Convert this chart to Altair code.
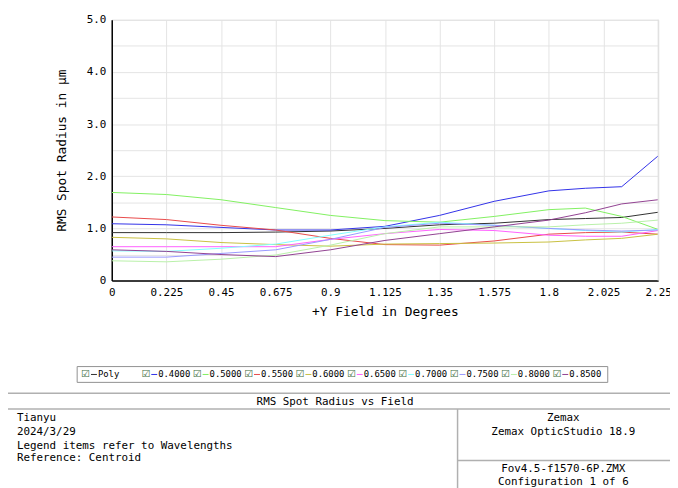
import altair as alt
import pandas as pd

field = [0, 0.225, 0.45, 0.675, 0.9, 1.125, 1.35, 1.575, 1.8, 1.95, 2.1, 2.25]

series_names = ["Poly", "0.4000", "0.5000", "0.5500", "0.6000", "0.6500",
                "0.7000", "0.7500", "0.8000", "0.8500"]
series_colors = ["#303030", "#3030e8", "#80f060", "#e84848", "#c8c040",
                 "#ff60ff", "#80ffff", "#9898ff", "#b8f0a8", "#904090"]

poly = [0.92, 0.92, 0.92, 0.93, 0.95, 1.00, 1.07, 1.10, 1.17, 1.19, 1.21, 1.31]
w0400 = [1.09, 1.07, 1.02, 0.97, 0.97, 1.04, 1.25, 1.52, 1.72, 1.77, 1.80, 2.39]
w0500 = [1.69, 1.65, 1.55, 1.40, 1.25, 1.15, 1.12, 1.23, 1.36, 1.39, 1.23, 0.98]
w0550 = [1.22, 1.17, 1.06, 0.97, 0.81, 0.69, 0.68, 0.76, 0.89, 0.92, 0.93, 0.89]
w0600 = [0.83, 0.80, 0.73, 0.69, 0.66, 0.70, 0.71, 0.72, 0.74, 0.78, 0.81, 0.89]
w0650 = [0.65, 0.65, 0.65, 0.65, 0.79, 0.90, 0.98, 0.96, 0.87, 0.85, 0.85, 0.96]
w0700 = [0.57, 0.56, 0.62, 0.70, 0.87, 1.03, 1.12, 1.06, 1.00, 0.96, 0.93, 0.98]
w0750 = [0.45, 0.45, 0.52, 0.59, 0.79, 1.02, 1.10, 1.06, 1.00, 0.97, 0.95, 0.97]
w0800 = [0.38, 0.36, 0.41, 0.49, 0.68, 0.90, 1.03, 1.03, 1.03, 1.07, 1.10, 1.16]
w0850 = [0.59, 0.56, 0.50, 0.46, 0.59, 0.77, 0.90, 1.03, 1.16, 1.30, 1.47, 1.55]

all_values = [poly, w0400, w0500, w0550, w0600, w0650, w0700, w0750, w0800, w0850]

x_ticks = [0, 0.225, 0.45, 0.675, 0.9, 1.125, 1.35, 1.575, 1.8, 2.025, 2.25]
y_ticks = [0, 0.5, 1.0, 1.5, 2.0, 2.5, 3.0, 3.5, 4.0, 4.5, 5.0]

rows = []
for name, vals in zip(series_names, all_values):
    for f, v in zip(field, vals):
        rows.append({"field": f, "rms": v, "wave": name})
df = pd.DataFrame(rows)

one = pd.DataFrame({"k": [0]})

FONT = "DejaVu Sans Mono"
W, H = 553, 264

lines = alt.Chart(df).mark_line(strokeWidth=1, clip=True).encode(
    x=alt.X("field:Q", scale=alt.Scale(domain=[0, 2.25], nice=False, zero=False),
            axis=alt.Axis(values=x_ticks, format=".4~g", title="+Y Field in Degrees",
                          grid=True, gridColor="#e4e4e4", ticks=False,
                          domainColor="#000000", domainWidth=1.5,
                          labelFont=FONT, labelFontSize=11, labelColor="#000",
                          labelPadding=6, labelFlush=False,
                          titleFont=FONT, titleFontSize=13, titleFontWeight="normal",
                          titleColor="#000", titlePadding=8)),
    y=alt.Y("rms:Q", scale=alt.Scale(domain=[0, 5], nice=False),
            axis=alt.Axis(values=y_ticks, title="RMS Spot Radius in µm",
                          labelExpr="datum.value == 0 ? '0' : (datum.value % 1 == 0 ? format(datum.value, '.1f') : '')",
                          grid=True, gridColor="#e4e4e4", ticks=False,
                          domainColor="#000000", domainWidth=1.5,
                          labelFont=FONT, labelFontSize=11, labelColor="#000",
                          labelPadding=6,
                          titleFont=FONT, titleFontSize=13, titleFontWeight="normal",
                          titleColor="#000", titlePadding=18)),
    color=alt.Color("wave:N", scale=alt.Scale(domain=series_names, range=series_colors),
                    legend=None),
    detail="wave:N",
)

layers = [lines]

layers.append(alt.Chart(one).mark_rule(color="#e0e0e0", strokeWidth=1).encode(
    x=alt.value(W), y=alt.value(0), y2=alt.value(H)))

OX, OY = 113, 17
def px(x):
    return x - OX
def py(y):
    return y - OY

layers.append(alt.Chart(one).mark_rect(fill="white", stroke="#909090", strokeWidth=1).encode(
    x=alt.value(px(78)), x2=alt.value(px(615)), y=alt.value(py(368)), y2=alt.value(py(384))))

leg_y = py(376)
starts = [82] + [143 + 52 * i for i in range(9)]
for name, col, sx in zip(series_names, series_colors, starts):
    layers.append(alt.Chart(one).mark_text(text="☑", font="DejaVu Sans", fontSize=10,
                                           color="#3d6b3d", align="left", baseline="middle").encode(
        x=alt.value(px(sx)), y=alt.value(leg_y)))
    layers.append(alt.Chart(one).mark_rule(color=col, strokeWidth=1).encode(
        x=alt.value(px(sx + 10)), x2=alt.value(px(sx + 16)), y=alt.value(leg_y)))
    layers.append(alt.Chart(one).mark_text(text=name, font=FONT, fontSize=9, color="#000",
                                           align="left", baseline="middle").encode(
        x=alt.value(px(sx + 17)), y=alt.value(leg_y)))

def hline(y, x1, x2):
    return alt.Chart(one).mark_rule(color="#b0b0b0", strokeWidth=1.5).encode(
        x=alt.value(px(x1)), x2=alt.value(px(x2)), y=alt.value(py(y)))

layers.append(hline(395, 0, 678))
layers.append(hline(411, 0, 678))
layers.append(hline(463, 463, 678))
layers.append(alt.Chart(one).mark_rule(color="#b0b0b0", strokeWidth=1.5).encode(
    x=alt.value(px(463)), y=alt.value(py(411)), y2=alt.value(py(495))))

def txt(s, x, y, align="left"):
    return alt.Chart(one).mark_text(text=s, font=FONT, fontSize=11, color="#000",
                                    align=align, baseline="middle").encode(
        x=alt.value(px(x)), y=alt.value(py(y)))

layers.append(txt("RMS Spot Radius vs Field", 339, 404, "center"))
layers.append(txt("Tianyu", 17, 420))
layers.append(txt("2024/3/29", 17, 434))
layers.append(txt("Legend items refer to Wavelengths", 17, 448))
layers.append(txt("Reference: Centroid", 17, 461))
layers.append(txt("Zemax", 570, 420, "center"))
layers.append(txt("Zemax OpticStudio 18.9", 570, 434, "center"))
layers.append(txt("Fov4.5-f1570-6P.ZMX", 570, 472, "center"))
layers.append(txt("Configuration 1 of 6", 570, 485, "center"))

chart = alt.layer(*layers).properties(
    width=W, height=H,
    autosize=alt.AutoSizeParams(type="none"),
    padding={"left": OX - 8, "top": OY - 8, "right": 12, "bottom": 480 - (OY - 8) - H},
).configure_view(stroke=None).configure(background="white")

chart.save("out.html", embed_options={"renderer": "svg", "actions": False})
